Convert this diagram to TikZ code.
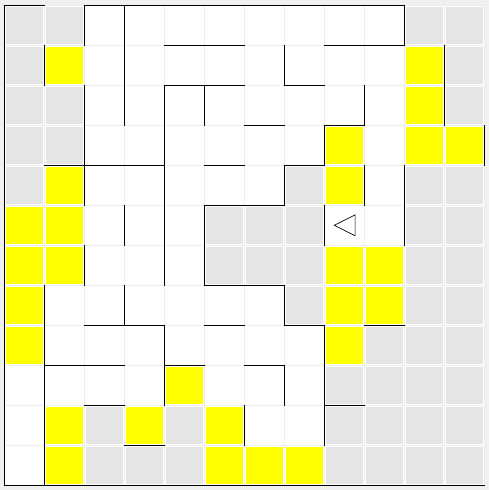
\documentclass[tikz,border=0pt]{standalone}
\usepackage{tikz}
\definecolor{unknownGray}{HTML}{E5E5E5}
\definecolor{frameGray}{HTML}{F0F0F0}
\definecolor{gridGray}{HTML}{EEEEEE}
\definecolor{markYellow}{RGB}{255,255,0}
\newcommand\cellPad{0.035}
\newcommand\gridN{12}
\newcommand\wallW{0.9pt}
\newcommand{\cellPath}[2]{
    ({#1 + \cellPad},{#2 + \cellPad}) rectangle ({#1 + 1 - \cellPad},{#2 + 1 - \cellPad})
}
% horizontal wall: row line, from column, to column
\newcommand{\hWall}[3]{
    \draw[wall] (#2,#1) -- (#3,#1);
}
% vertical wall: column line, from row, to row
\newcommand{\vWall}[3]{
    \draw[wall] (#1,#2) -- (#1,#3);
}
\tikzset{wall/.style={black, line width=\wallW, line cap=rect}}

\begin{document}
\begin{tikzpicture}[x=1cm, y=-1cm]
        \fill[frameGray] (-0.1075,-0.1325) rectangle (12.1175,12.1175);
        \useasboundingbox (-0.1075,-0.1325) rectangle (12.1175,12.1175);
        \fill[white] (0,0) rectangle (\gridN,\gridN);
        \draw[gridGray, line width=0.7pt] (0,0) grid (\gridN,\gridN);

        % unexplored cells
        \foreach \cx/\cy in {0/0,1/0,10/0,11/0, 0/1,11/1, 0/2,1/2,11/2, 0/3,1/3,
                0/4,7/4,10/4,11/4, 5/5,6/5,7/5,10/5,11/5, 5/6,6/6,7/6,10/6,11/6,
                7/7,10/7,11/7, 9/8,10/8,11/8, 8/9,9/9,10/9,11/9,
                2/10,4/10,8/10,9/10,10/10,11/10, 2/11,3/11,4/11,8/11,9/11,10/11,11/11}
            \fill[unknownGray] \cellPath{\cx}{\cy};

        % marked cells
        \foreach \cx/\cy in {1/1,10/1, 10/2, 8/3,10/3,11/3, 1/4,8/4, 0/5,1/5,
                0/6,1/6,8/6,9/6, 0/7,8/7,9/7, 0/8,8/8, 4/9, 1/10,3/10,5/10,
                1/11,5/11,6/11,7/11}
            \fill[markYellow] \cellPath{\cx}{\cy};

        % border
        \vWall{0}{0}{12}
        \hWall{12}{0}{12}
        \hWall{0}{0}{1}
        \hWall{0}{2}{10}
        \vWall{12}{3}{4}

        % horizontal walls
        \hWall{1}{4}{6}
        \hWall{1}{8}{10}
        \hWall{2}{4}{6}
        \hWall{2}{7}{8}
        \hWall{3}{6}{7}
        \hWall{3}{8}{9}
        \hWall{4}{1}{4}
        \hWall{4}{5}{6}
        \hWall{4}{7}{8}
        \hWall{5}{5}{7}
        \hWall{7}{5}{7}
        \hWall{8}{2}{4}
        \hWall{8}{5}{6}
        \hWall{8}{7}{8}
        \hWall{8}{9}{10}
        \hWall{9}{1}{3}
        \hWall{9}{4}{5}
        \hWall{9}{6}{7}
        \hWall{10}{2}{3}
        \hWall{10}{8}{9}
        \hWall{11}{3}{4}

        % vertical walls
        \vWall{1}{1}{2}
        \vWall{1}{7}{12}
        \vWall{2}{0}{1}
        \vWall{2}{2}{5}
        \vWall{2}{6}{7}
        \vWall{3}{0}{3}
        \vWall{3}{5}{6}
        \vWall{3}{7}{8}
        \vWall{4}{2}{7}
        \vWall{4}{8}{10}
        \vWall{5}{2}{3}
        \vWall{5}{5}{7}
        \vWall{6}{10}{11}
        \vWall{7}{1}{2}
        \vWall{7}{4}{5}
        \vWall{7}{7}{8}
        \vWall{7}{9}{10}
        \vWall{8}{3}{4}
        \vWall{8}{5}{6}
        \vWall{8}{8}{11}
        \vWall{9}{2}{3}
        \vWall{9}{4}{5}
        \vWall{10}{0}{1}
        \vWall{10}{4}{6}
        \vWall{11}{1}{3}

        % agent facing west
        \draw[black, fill=white, line width=0.5pt] (8.25,5.5) -- (8.77,5.24) -- (8.77,5.76) -- cycle;
    \end{tikzpicture}
\end{document}
